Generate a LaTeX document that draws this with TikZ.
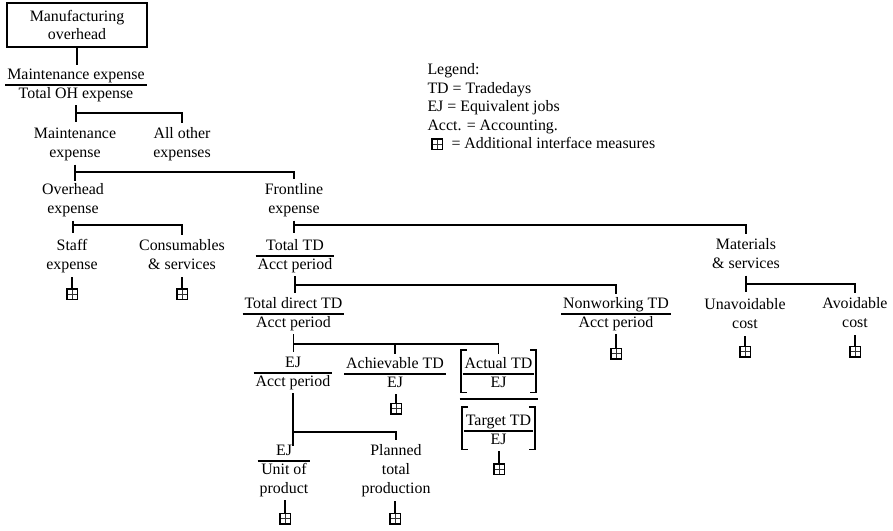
\documentclass[tikz,border=0pt]{standalone}
\usepackage{fontspec}
\setmainfont{Liberation Serif}
\usetikzlibrary{calc}
% ratios: numerator over a rule over denominator
\renewcommand{\arraystretch}{0.92}
\setlength{\arrayrulewidth}{1.6pt}
\newcommand{\ratio}[2]{\begin{tabular}{@{\hspace{2pt}}c@{\hspace{2pt}}}#1\\\hline #2\end{tabular}}
% square brackets around a ratio node
\newcommand{\bracketpair}[1]{%
  \draw[brk] ([xshift=4.2pt,yshift=3.5pt]#1.north west) -- ([xshift=-1.8pt,yshift=3.5pt]#1.north west)
    -- ([xshift=-1.8pt,yshift=1.8pt]#1.south west) -- ([xshift=4.2pt,yshift=1.8pt]#1.south west);
  \draw[brk] ([xshift=-4.2pt,yshift=3.5pt]#1.north east) -- ([xshift=1.8pt,yshift=3.5pt]#1.north east)
    -- ([xshift=1.8pt,yshift=1.8pt]#1.south east) -- ([xshift=-4.2pt,yshift=1.8pt]#1.south east);}
\begin{document}
\begin{tikzpicture}[x=1pt,y=-1pt,
  every node/.style={font=\fontsize{15.9pt}{19pt}\selectfont, inner sep=0pt, outer xsep=0pt, outer ysep=2pt},
  lbl/.style={align=center, anchor=north},
  frac/.style={anchor=north},
  conn/.style={line width=1.8pt},
  brk/.style={line width=1.8pt},
  plusbox/.style={draw, line width=1.5pt, minimum size=10.5pt, inner sep=0pt, outer sep=0pt,
    path picture={\draw[line width=0.6pt, black!80]
      (path picture bounding box.north) -- (path picture bounding box.south)
      (path picture bounding box.west) -- (path picture bounding box.east);}},
]
\path[fill=white] (0,0) rectangle (893,530);
\useasboundingbox (0,0) rectangle (893,530);

% ---- nodes ----
\node[draw, line width=1.6pt, minimum width=140pt, minimum height=44pt, outer sep=0pt,
      align=center, font=\fontsize{15.9pt}{18pt}\selectfont] (mo) at (77,25) {Manufacturing\\overhead};
\node[frac] (mtoh) at (76,64.8) {\ratio{Maintenance expense}{Total OH expense}};
\node[lbl] (mexp) at (75,122.7) {\strut Maintenance\\expense\strut};
\node[lbl] (aoe) at (182,122.7) {\strut All other\\expenses\strut};
\node[lbl] (ohe) at (73,178.7) {\strut Overhead\\expense\strut};
\node[lbl] (fle) at (294,178.7) {\strut Frontline\\expense\strut};
\node[lbl] (staff) at (72,234.7) {\strut Staff\\expense\strut};
\node[lbl] (cons) at (182,234.7) {\strut Consumables\\\& services\strut};
\node[frac] (ttd) at (295,235.8) {\ratio{Total TD}{Acct period}};
\node[lbl] (mats) at (746,233.7) {\strut Materials\\\& services\strut};
\node[frac] (tdtd) at (293.5,293.8) {\ratio{Total direct TD}{Acct period}};
\node[frac] (nwtd) at (616,293.8) {\ratio{Nonworking TD}{Acct period}};
\node[lbl] (unav) at (745,293.7) {\strut Unavoidable\\cost\strut};
\node[lbl] (avoid) at (855,292.7) {\strut Avoidable\\cost\strut};
\node[frac] (ejap) at (293,352.8) {\ratio{EJ}{Acct period}};
\node[frac] (achv) at (395,353.8) {\ratio{Achievable TD}{EJ}};
\node[frac] (actual) at (498.5,353.8) {\ratio{Actual TD}{EJ}};
\node[frac] (target) at (498.5,410.8) {\ratio{Target TD}{EJ}};
\node[frac] (ejup) at (284,440.8) {\begin{tabular}{@{\hspace{2pt}}c@{\hspace{2pt}}}EJ\\\hline Unit of\\[1.5pt] product\end{tabular}};
\node[lbl] (ptp) at (396,439.7) {\strut Planned\\total\\production\strut};

% brackets around actual and target ratios, with the rule between them
\bracketpair{actual}
\bracketpair{target}
\draw[conn] ([xshift=-3pt,yshift=-4.8pt]actual.south west) -- ([xshift=3.5pt,yshift=-4.8pt]actual.south east);

% interface-measure markers
\node[plusbox] (staffm) at (72,294) {};
\node[plusbox] (consm) at (182,294) {};
\node[plusbox] (nwtdm) at (616,353.5) {};
\node[plusbox] (unavm) at (745,351.5) {};
\node[plusbox] (avoidm) at (855,351.5) {};
\node[plusbox] (achvm) at (396,408.5) {};
\node[plusbox] (targetm) at (499,469) {};
\node[plusbox] (ejupm) at (285,518.5) {};
\node[plusbox] (ptpm) at (395,518.5) {};

% legend
\node[anchor=north west, align=left, outer sep=0pt, font=\fontsize{15.9pt}{18.4pt}\selectfont] (legend) at (427.5,62)
  {\strut Legend:\\TD = Tradedays\\EJ = Equivalent jobs\\Acct. = Accounting.\\\hspace*{24pt}= Additional interface measures};
\node[plusbox] (legendm) at (437,144) {};

% ---- connectors ----
\coordinate (b1) at (0,113);
\coordinate (b2) at (0,172);
\coordinate (b3) at (0,225);
\coordinate (b4) at (0,285);
\coordinate (b5) at (0,284);
\coordinate (b6) at (0,344);
\coordinate (b7) at (0,432);

\draw[conn] (mo.south) -- (mo.south |- mtoh.north);

\draw[conn] (mtoh.south) -- ([yshift=-9pt]mtoh.south |- b1);
\draw[conn] (mtoh.south |- b1) -| (aoe.north);

\draw[conn] (mexp.south) -- ([yshift=-9pt]mexp.south |- b2);
\draw[conn] (mexp.south |- b2) -| (fle.north);

\draw[conn] (ohe.south) -- ([yshift=-8pt]ohe.south |- b3);
\draw[conn] (ohe.south |- b3) -| (cons.north);

\draw[conn] (fle.south) -- ([yshift=-8pt]fle.south |- b3);
\draw[conn] (fle.south |- b3) -| (mats.north);

\draw[conn] (ttd.south) -- ([yshift=-8pt]ttd.south |- b4);
\draw[conn] (ttd.south |- b4) -| (nwtd.north);

\draw[conn] (mats.south) -- ([yshift=-8pt]mats.south |- b5);
\draw[conn] (mats.south |- b5) -| (avoid.north);

\draw[conn] (tdtd.south) -- ([yshift=-8pt]tdtd.south |- b6);
\draw[conn] (tdtd.south |- b6) -| (actual.north);
\draw[conn] (achv.north |- b6) -- (achv.north);

\draw[conn] (ejap.south) -- ([yshift=-14pt]ejap.south |- b7);
\draw[conn] (ejap.south |- b7) -| (ptp.north);

\foreach \m/\l in {staffm/staff, consm/cons, nwtdm/nwtd, unavm/unav, avoidm/avoid,
                   achvm/achv, targetm/target, ejupm/ejup, ptpm/ptp}
  \draw[conn] (\m.north) -- (\m.north |- \l.south);
\end{tikzpicture}
\end{document}
